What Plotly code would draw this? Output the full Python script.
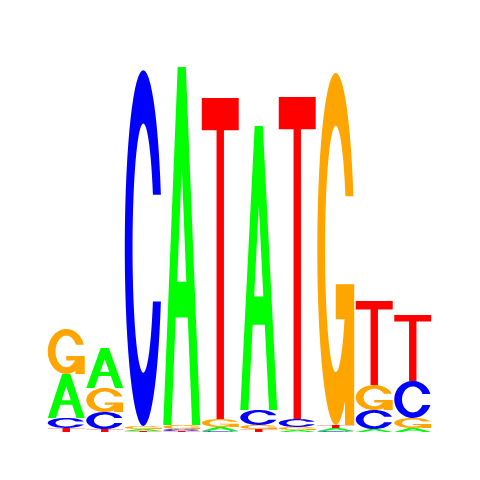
import numpy as np
import plotly.graph_objects as go

# information content (bits) of each base at positions 1..10
positions = list(range(1, 11))
A_bits = [0.238, 0.216, 0.011, 1.935, 0.022, 1.535, 0.011, 0.016, 0.016, 0.022]
C_bits = [0.054, 0.092, 1.924, 0.011, 0.005, 0.081, 0.043, 0.005, 0.103, 0.200]
G_bits = [0.243, 0.130, 0.016, 0.022, 0.043, 0.022, 0.016, 1.903, 0.135, 0.054]
T_bits = [0.022, 0.016, 0.005, 0.005, 1.735, 0.016, 1.741, 0.017, 0.454, 0.357]

colors = {"A": "#00ff00", "C": "#0000ff", "G": "#ffa500", "T": "#ff0000"}


# letter outlines in a unit box, list of polygons (second ring of A is its hole)
def c_ring(t_top, t_bot):
    ro, rix, riy = 0.5, 0.29, 0.35
    a0 = np.arcsin((t_top - 0.5) / ro)
    a1 = 2 * np.pi + np.arcsin((t_bot - 0.5) / ro)
    b0 = np.arcsin((t_top - 0.5) / riy)
    b1 = 2 * np.pi + np.arcsin((t_bot - 0.5) / riy)
    ta = np.linspace(a0, a1, 60)
    tb = np.linspace(b1, b0, 60)
    xs = list(0.5 + ro * np.cos(ta)) + list(0.5 + rix * np.cos(tb))
    ys = list(0.5 + ro * np.sin(ta)) + list(0.5 + riy * np.sin(tb))
    return list(zip(xs, ys))


glyphs = {
    "A": [[[(0, 0), (0.39, 1), (0.61, 1), (1, 0), (0.78, 0), (0.663, 0.30),
            (0.337, 0.30), (0.22, 0)],
           [(0.376, 0.40), (0.5, 0.72), (0.624, 0.40)]]],
    "C": [[c_ring(0.65, 0.35)]],
    "G": [[c_ring(0.65, 0.32)],
          [[(0.5, 0.40), (1, 0.40), (1, 0), (0.75, 0), (0.75, 0.30), (0.5, 0.30)]]],
    "T": [[[(0, 1), (1, 1), (1, 0.9), (0.6, 0.9), (0.6, 0), (0.4, 0),
            (0.4, 0.9), (0, 0.9)]]],
}

bits = {"A": A_bits, "C": C_bits, "G": G_bits, "T": T_bits}
width = 0.96

fig = go.Figure()
shapes = []
for i, pos in enumerate(positions):
    stack = sorted(bits, key=lambda b: bits[b][i])
    base = 0.0
    for letter in stack:
        h = bits[letter][i]
        x0 = pos - width / 2
        for part in glyphs[letter]:
            path = ""
            for ring in part:
                pts = [(x0 + gx * width, base + gy * h) for gx, gy in ring]
                path += "M" + "L".join(f"{px:.4f},{py:.5f}" for px, py in pts) + "Z"
            shapes.append(dict(type="path", path=path, xref="x", yref="y",
                               fillcolor=colors[letter], line=dict(width=0),
                               fillrule="evenodd", layer="above"))
        base += h

# invisible trace so the axes exist
fig.add_trace(go.Scatter(x=positions, y=[0] * len(positions), mode="markers",
                         marker=dict(opacity=0), hoverinfo="skip", showlegend=False))

# page body adds 8px, so the figure is a bit smaller and shifted back
fig.update_layout(
    width=472, height=472,
    margin=dict(l=39, r=48, t=54, b=48),
    paper_bgcolor="white", plot_bgcolor="white",
    shapes=shapes,
    xaxis=dict(range=[0.5, 10.5], visible=False, fixedrange=True),
    yaxis=dict(range=[0, 2], visible=False, fixedrange=True),
)

fig.write_html("out.html", config={"displayModeBar": False})
